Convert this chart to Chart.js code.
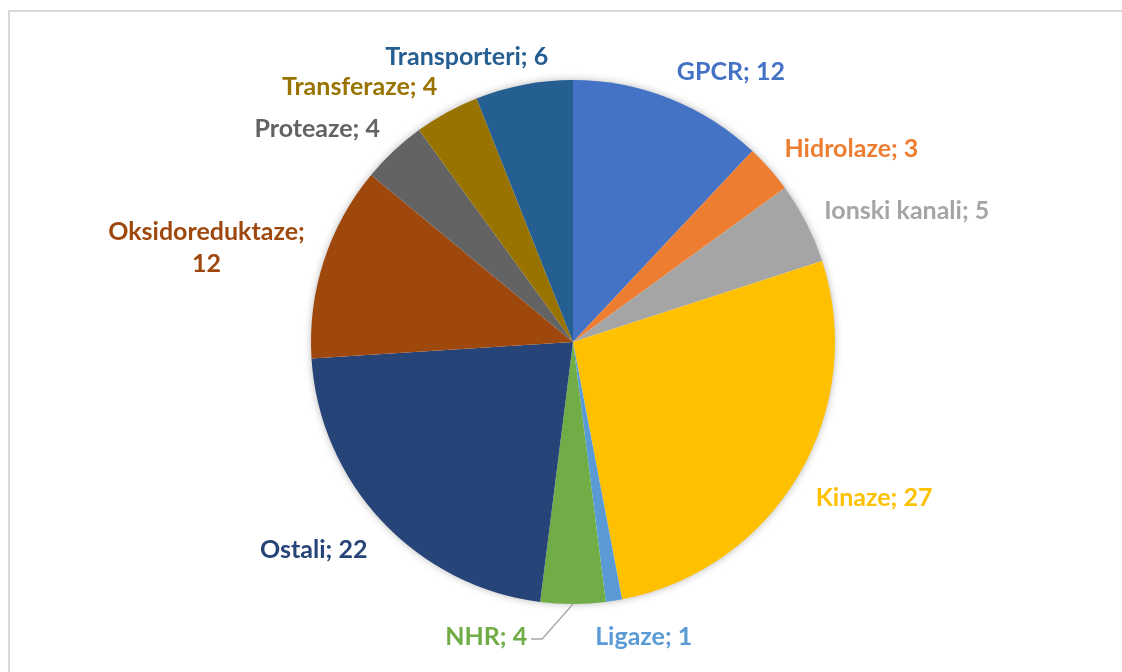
<!DOCTYPE html>
<html>
<head>
<meta charset="utf-8">
<script src="https://cdn.jsdelivr.net/npm/chart.js"></script>
<style>
  html, body { margin: 0; padding: 0; background: #fff; }
  #wrap { position: relative; width: 1122px; height: 672px; overflow: hidden; }
  #frame { position: absolute; left: 8px; top: 10px; width: 1130px; height: 700px;
           border: 2px solid #d9d9d9; box-sizing: border-box; }
  #pie { position: absolute; left: 0; top: 0; }
</style>
</head>
<body>
<div id="wrap">
  <div id="frame"></div>
  <canvas id="pie" width="1122" height="672"></canvas>
</div>
<script>
// data
const categories = ["GPCR", "Hidrolaze", "Ionski kanali", "Kinaze", "Ligaze", "NHR",
                    "Ostali", "Oksidoreduktaze", "Proteaze", "Transferaze", "Transporteri"];
const values = [12, 3, 5, 27, 1, 4, 22, 12, 4, 4, 6];
const colors = ["#4472C4", "#ED7D31", "#A5A5A5", "#FFC000", "#5B9BD5", "#70AD47",
                "#264478", "#9E480E", "#636363", "#997300", "#255E91"];

const FONT = "bold 25px Lato";
const LINE_H = 32;
const TEXT_H = 24;     // visual height of one text line
const TEXT_DY = 4;     // glyphs sit a little high on the 'middle' baseline
const GAP = 20;        // distance of the label anchor outside the rim
const MAX_W = 200;     // labels wider than this wrap onto two lines
const PUSH_GAP = 68;   // space left when a label collides with a neighbour

// soft shadow under the whole pie
const pieShadow = {
  id: 'pieShadow',
  beforeDatasetsDraw(chart) {
    const arc = chart.getDatasetMeta(0).data[0];
    if (!arc) return;
    const ctx = chart.ctx;
    ctx.save();
    ctx.shadowColor = 'rgba(0,0,0,0.35)';
    ctx.shadowBlur = 9;
    ctx.beginPath();
    ctx.arc(arc.x, arc.y, arc.outerRadius - 1, 0, Math.PI * 2);
    ctx.fillStyle = '#ffffff';
    ctx.fill();
    ctx.restore();
  }
};

// labels "Name; value" outside the slices, in the slice colour
const outsideLabels = {
  id: 'outsideLabels',
  afterDatasetsDraw(chart) {
    const ctx = chart.ctx;
    const meta = chart.getDatasetMeta(0);
    const clamp = v => Math.max(-1, Math.min(1, v));
    const boxes = [];
    ctx.save();
    ctx.font = FONT;
    ctx.textAlign = 'center';
    ctx.textBaseline = 'middle';
    meta.data.forEach((arc, i) => {
      const p = arc.getProps(['x', 'y', 'startAngle', 'endAngle', 'outerRadius'], true);
      const mid = (p.startAngle + p.endAngle) / 2;
      const ux = Math.cos(mid), uy = Math.sin(mid);
      const full = categories[i] + '; ' + values[i];
      let lines = [full];
      if (ctx.measureText(full).width > MAX_W) lines = [categories[i] + ';', String(values[i])];
      const w = Math.max(...lines.map(l => ctx.measureText(l).width));
      const h = (lines.length - 1) * LINE_H + TEXT_H;
      const ax = p.x + (p.outerRadius + GAP) * ux;
      const ay = p.y + (p.outerRadius + GAP) * uy;
      let cx = ax + w / 2 * clamp(3.5 * ux);
      let cy = ay + h / 2 * clamp(1.3 * uy);
      let moved = false;
      boxes.forEach(b => {
        const hit = Math.abs(cx - b.cx) < (w + b.w) / 2 && Math.abs(cy - b.cy) < (h + b.h) / 2;
        if (hit) {
          cx = cx < b.cx ? b.cx - b.w / 2 - PUSH_GAP - w / 2 : b.cx + b.w / 2 + PUSH_GAP + w / 2;
          cy -= 3;
          moved = true;
        }
      });
      boxes.push({ cx, cy, w, h });
      if (moved) {
        const ex = p.x + p.outerRadius * ux, ey = p.y + p.outerRadius * uy;
        const side = cx < ex ? 1 : -1;
        const endX = cx + side * (w / 2 + 4);
        ctx.beginPath();
        ctx.moveTo(ex, ey);
        ctx.lineTo(endX + side * 11, cy + TEXT_DY + 2);
        ctx.lineTo(endX, cy + TEXT_DY + 2);
        ctx.strokeStyle = '#a6a6a6';
        ctx.lineWidth = 1.3;
        ctx.stroke();
      }
      ctx.fillStyle = colors[i];
      lines.forEach((l, k) => {
        ctx.fillText(l, cx, cy - h / 2 + TEXT_H / 2 + LINE_H * k + TEXT_DY);
      });
    });
    ctx.restore();
  }
};

new Chart(document.getElementById('pie').getContext('2d'), {
  type: 'pie',
  data: {
    labels: categories,
    datasets: [{
      data: values,
      backgroundColor: colors,
      borderWidth: 0
    }]
  },
  options: {
    responsive: false,
    animation: false,
    layout: { padding: { left: 311, right: 287, top: 80, bottom: 68 } },
    plugins: {
      legend: { display: false },
      tooltip: { enabled: false }
    }
  },
  plugins: [pieShadow, outsideLabels]
});
</script>
</body>
</html>
